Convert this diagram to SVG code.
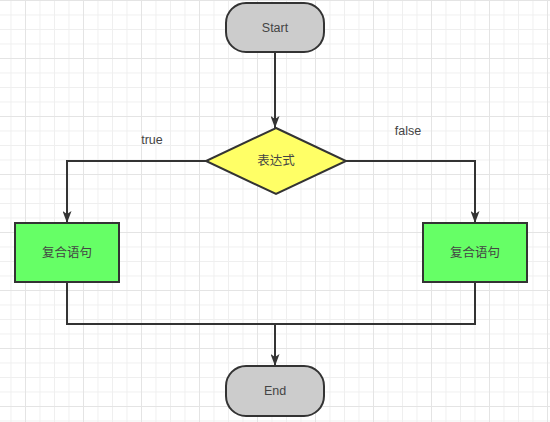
<svg xmlns="http://www.w3.org/2000/svg" width="550" height="422" viewBox="0 0 550 422">
<defs>
<pattern id="minor" x="-4" y="0" width="14.5" height="14.5" patternUnits="userSpaceOnUse">
<path d="M0 0.5H14.5M0.5 0V14.5" fill="none" stroke="#efefef" stroke-width="1"/>
</pattern>
<pattern id="major" x="-33" y="0" width="58" height="58" patternUnits="userSpaceOnUse">
<path d="M0 0.5H58M0.5 0V58" fill="none" stroke="#e4e4e4" stroke-width="1"/>
</pattern>
<marker id="arr" viewBox="0 0 12 9" refX="12" refY="4.5" markerWidth="12" markerHeight="9" orient="auto" markerUnits="userSpaceOnUse">
<path d="M0 0L12 4.5L0 9L3 4.5Z" fill="#333"/>
</marker>
</defs>
<style>
.term{fill:#cccccc;stroke:#333;stroke-width:2}
.proc{fill:#66ff66;stroke:#333;stroke-width:2}
.dec{fill:#ffff66;stroke:#333;stroke-width:2}
.edge{fill:none;stroke:#333;stroke-width:2}
.t{font-family:"Liberation Sans","Noto Sans CJK SC",sans-serif;font-size:12.5px;fill:#444;text-anchor:middle;dominant-baseline:central}
</style>
<rect width="550" height="422" fill="#fff"/>
<rect width="550" height="422" fill="url(#minor)"/>
<rect width="550" height="422" fill="url(#major)"/>
<g id="connectors">
<path class="edge" d="M275 52V128" marker-end="url(#arr)"/>
<path class="edge" d="M206 161H67V223" marker-end="url(#arr)"/>
<path class="edge" d="M346 161H475V223" marker-end="url(#arr)"/>
<path class="edge" d="M67 282V324H475V282"/>
<path class="edge" d="M275 324V366" marker-end="url(#arr)"/>
<text class="t" x="152" y="140">true</text>
<text class="t" x="408" y="131">false</text>
</g>
<g id="start">
<rect class="term" x="226" y="3" width="98" height="49" rx="20" ry="20"/>
<text class="t" x="275" y="27.5">Start</text>
</g>
<g id="cond">
<path class="dec" d="M276 128L346 161L276 194L206 161Z"/>
<text class="t" x="276" y="161">表达式</text>
</g>
<g id="left">
<rect class="proc" x="15" y="223" width="104" height="59"/>
<text class="t" x="67" y="252.5">复合语句</text>
</g>
<g id="right">
<rect class="proc" x="423" y="223" width="104" height="59"/>
<text class="t" x="475" y="252.5">复合语句</text>
</g>
<g id="end">
<rect class="term" x="226" y="366" width="98" height="50" rx="20" ry="20"/>
<text class="t" x="275" y="391">End</text>
</g>
</svg>
